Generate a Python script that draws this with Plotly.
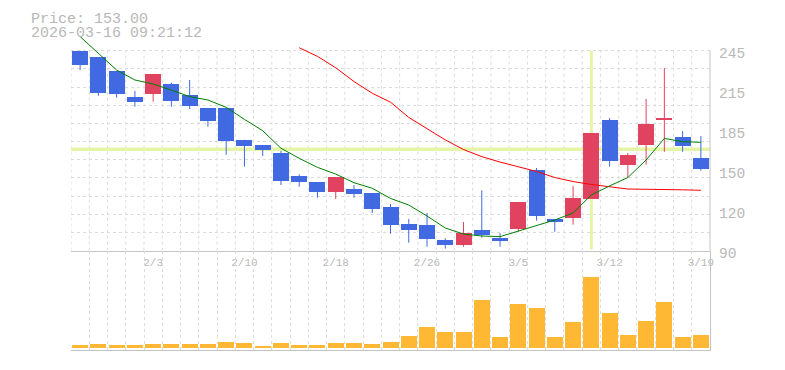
import plotly.graph_objects as go

# ---------------- data ----------------
dates = ['1/28', '1/29', '1/30', '2/2', '2/3', '2/4', '2/5', '2/6', '2/9', '2/10',
         '2/12', '2/13', '2/16', '2/17', '2/18', '2/19', '2/20', '2/24', '2/25', '2/26',
         '2/27', '3/2', '3/3', '3/4', '3/5', '3/6', '3/9', '3/10', '3/11', '3/12',
         '3/13', '3/16', '3/17', '3/18', '3/19']
tick_dates = ['2/3', '2/10', '2/18', '2/26', '3/5', '3/12', '3/19']

opens = [245.0, 240.1, 229.3, 209.1, 211.7, 219.2, 210.7, 200.6, 200.6, 176.0,
         171.9, 166.0, 147.9, 143.2, 135.5, 137.8, 134.7, 123.9, 110.7, 109.9,
         98.3, 94.7, 106.0, 99.8, 107.1, 152.5, 114.6, 115.6, 130.3, 191.3,
         156.7, 172.2, 191.3, 178.1, 161.8]
highs = [245.0, 240.1, 229.3, 213.8, 226.9, 220.2, 222.3, 200.6, 200.6, 176.0,
         171.9, 167.3, 149.2, 143.2, 147.1, 140.9, 134.7, 126.2, 114.6, 119.2,
         99.6, 112.2, 136.8, 103.7, 127.7, 154.1, 114.6, 140.1, 181.2, 192.8,
         165.7, 207.6, 231.6, 182.8, 178.9]
lows = [230.0, 210.1, 208.6, 201.6, 205.5, 201.6, 199.8, 186.1, 164.4, 155.1,
        163.4, 140.9, 139.6, 131.1, 130.1, 131.1, 119.2, 103.2, 96.2, 93.1,
        91.6, 93.1, 100.1, 93.1, 104.7, 113.3, 104.7, 110.2, 130.3, 155.1,
        146.6, 156.7, 166.7, 166.7, 152.0]
closes = [234.2, 212.5, 211.7, 205.5, 226.9, 206.3, 202.4, 190.8, 175.3, 171.4,
          168.3, 144.0, 143.2, 135.5, 147.1, 133.9, 122.3, 109.9, 106.0, 99.1,
          94.7, 103.7, 102.4, 97.8, 127.7, 117.1, 112.5, 130.8, 181.2, 159.8,
          164.2, 188.2, 192.8, 171.4, 153.0]

ma_short = [255.9, 243.0, 230.0, 222.3, 219.2, 214.5, 209.4, 206.8, 201.1, 191.8,
            183.0, 169.4, 161.6, 154.6, 149.4, 142.7, 138.4, 130.5, 125.4, 116.9,
            107.6, 102.9, 101.4, 100.9, 105.3, 109.1, 113.8, 119.2, 133.2, 140.2,
            146.7, 160.3, 177.0, 174.5, 174.0]
ma_long = [None] * 12 + [247.3, 240.6, 231.8, 221.1, 212.0, 205.1, 193.3, 184.3,
                         175.9, 168.4, 162.9, 158.7, 154.9, 151.4, 146.7, 143.6,
                         141.3, 139.8, 137.8, 137.6, 137.6, 137.2, 136.8]

volumes = [9000, 13000, 9000, 9000, 13000, 13000, 13000, 13000, 19000, 15000,
           6000, 15000, 9000, 9000, 15000, 15000, 13000, 19000, 36000, 63000,
           48000, 48000, 144000, 33000, 132000, 120000, 33000, 78000, 213000, 105000,
           39000, 81000, 138000, 33000, 39000]

price_ticks = [90, 121, 152, 183, 214, 245]
price_tick_text = ['90', '120', '150', '185', '215', '245']

price_label = 'Price: 153.00'
time_label = '2026-03-16 09:21:12'
cross_index = 28
cross_price = 168.7

# ---------------- layout geometry (page pixels) ----------------
W, H = 785, 370
PLOT_L, PLOT_R, PLOT_T, PLOT_B = 71, 710, 30, 350
ML, MR, MT, MB = PLOT_L, W - PLOT_R, PLOT_T, H - PLOT_B
PW, PH = W - ML - MR, H - MT - MB


def py(page_y):  # page pixel y -> paper y
    return (PLOT_B - page_y) / PH


def pxx(page_x):  # page pixel x -> paper x
    return (page_x - PLOT_L) / PW


price_bottom_px, price_top_px = 250.7, 50.7
p_min, p_max = 90, 245
per_px = (p_max - p_min) / (price_bottom_px - price_top_px)
y_range_top = p_max + (price_top_px - PLOT_T) * per_px
price_domain = [py(price_bottom_px), 1]
vol_domain = [0, py(price_bottom_px)]
vol_per_px = 1000 * 3
vol_range = [-(PLOT_B - 348) * vol_per_px, (348 - price_bottom_px) * vol_per_px]

n = len(dates)
xs = list(range(n))
UP, DOWN = '#E0435F', '#4169E1'
GRID = '#dcdcdc'
AXIS = '#c4c4c4'
TXT = '#b8b8b8'
FONT = 'Liberation Mono'

up_idx = [i for i in xs if closes[i] >= opens[i]]
dn_idx = [i for i in xs if closes[i] < opens[i]]

fig = go.Figure()


def wick_trace(idx, color):
    wx, wy = [], []
    for i in idx:
        wx += [i, i, None]
        wy += [lows[i], highs[i], None]
    return go.Scatter(x=wx, y=wy, mode='lines', line=dict(color=color, width=1),
                      xaxis='x', yaxis='y', showlegend=False, hoverinfo='skip')


def body_trace(idx, color):
    return go.Bar(x=idx,
                  base=[min(opens[i], closes[i]) for i in idx],
                  y=[abs(closes[i] - opens[i]) for i in idx],
                  width=0.876, marker=dict(color=color, line=dict(width=0)),
                  xaxis='x', yaxis='y', showlegend=False)


fig.add_trace(wick_trace(up_idx, UP))
fig.add_trace(wick_trace(dn_idx, DOWN))
fig.add_trace(body_trace(up_idx, UP))
fig.add_trace(body_trace(dn_idx, DOWN))

fig.add_trace(go.Scatter(x=xs, y=ma_long, mode='lines', line=dict(color='#ff0000', width=1),
                         xaxis='x', yaxis='y', showlegend=False, connectgaps=False))
fig.add_trace(go.Scatter(x=xs, y=ma_short, mode='lines', line=dict(color='#008000', width=1),
                         xaxis='x', yaxis='y', showlegend=False))

fig.add_trace(go.Bar(x=xs, y=volumes, width=0.876, marker=dict(color='#FFB833', line=dict(width=0)),
                     xaxis='x2', yaxis='y2', showlegend=False))

shapes = []
for k in range(n):
    shapes.append(dict(type='line', xref='x', yref='y', x0=k - 0.5, x1=k - 0.5,
                       y0=p_min, y1=p_max, line=dict(color=GRID, width=1, dash='3px,3px'),
                       layer='below'))
shapes.append(dict(type='line', xref='x domain', yref='y', x0=1, x1=1, y0=p_min, y1=p_max,
                   line=dict(color=AXIS, width=1), layer='above'))
shapes.append(dict(type='line', xref='x', yref='y', x0=cross_index, x1=cross_index,
                   y0=p_min + 1, y1=p_max, line=dict(color='#E4F5A6', width=3), layer='between'))
shapes.append(dict(type='line', xref='x', yref='y', x0=-0.5, x1=n - 0.5,
                   y0=cross_price, y1=cross_price, line=dict(color='#E4F5A6', width=3.5),
                   layer='between'))

grid_vals = [p_min + k * (p_max - p_min) / 11 for k in range(11)] + [p_max]

fig.update_layout(
    width=W, height=H, autosize=False,
    margin=dict(l=ML, r=MR, t=MT, b=MB, pad=0, autoexpand=False),
    paper_bgcolor='white', plot_bgcolor='white',
    barmode='overlay', bargap=0,
    showlegend=False, hovermode=False,
    shapes=shapes,
    xaxis=dict(domain=[0, 1], anchor='y', range=[-0.5, n - 0.5],
               tickvals=[dates.index(d) for d in tick_dates], ticktext=tick_dates,
               showgrid=False, zeroline=False, showline=True, linecolor=AXIS, linewidth=1,
               ticks='', ticklabelstandoff=1, automargin=False,
               tickfont=dict(family=FONT, size=11, color=TXT)),
    xaxis2=dict(domain=[0, 1], anchor='y2', matches='x', range=[-0.5, n - 0.5],
                showticklabels=False, showgrid=False, zeroline=False, automargin=False,
                showline=True, linecolor=AXIS, linewidth=1, ticks='',
                minor=dict(tickvals=[k - 0.5 for k in range(n)], showgrid=True,
                           gridcolor=GRID, gridwidth=1, griddash='3px,3px', ticks='')),
    yaxis=dict(domain=price_domain, anchor='x', range=[p_min, y_range_top], side='right',
               tickvals=price_ticks, ticktext=price_tick_text, showgrid=False,
               zeroline=False, showline=False, ticks='', ticklabelstandoff=8,
               ticklabelshift=2, automargin=False,
               tickfont=dict(family=FONT, size=14.5, color=TXT),
               minor=dict(tickvals=grid_vals, showgrid=True, gridcolor=GRID, gridwidth=1,
                          griddash='3px,3px', ticks='')),
    yaxis2=dict(domain=vol_domain, anchor='x2', range=vol_range, side='right',
                showticklabels=False, showgrid=False, zeroline=False, automargin=False,
                showline=True, linecolor=AXIS, linewidth=1, ticks=''),
    annotations=[
        dict(text=price_label, xref='paper', yref='paper', x=pxx(29), y=py(19.5),
             xanchor='left', yanchor='middle', showarrow=False,
             font=dict(family=FONT, size=15, color=TXT)),
        dict(text=time_label, xref='paper', yref='paper', x=pxx(29), y=py(34),
             xanchor='left', yanchor='middle', showarrow=False,
             font=dict(family=FONT, size=15, color=TXT)),
    ],
)

page_css = ("document.documentElement.style.margin='0';"
            "document.documentElement.style.padding='0';"
            "document.documentElement.style.overflow='hidden';"
            "document.body.style.margin='0';"
            "document.body.style.padding='0';"
            "document.body.style.overflow='hidden';")

fig.write_html('out.html', post_script=page_css,
               config={'displayModeBar': False, 'staticPlot': True})
